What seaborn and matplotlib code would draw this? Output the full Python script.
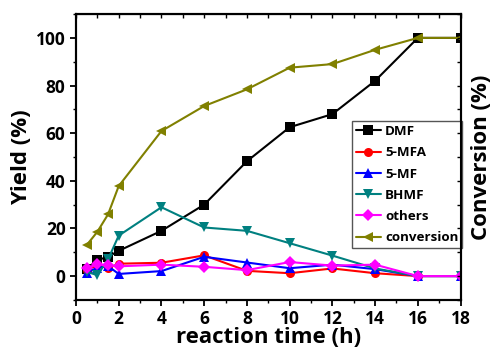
import pandas as pd
import matplotlib
matplotlib.use('Agg')
import matplotlib.pyplot as plt
import seaborn as sns
from matplotlib.ticker import MultipleLocator, NullFormatter

# Reaction time (h) and yields / conversion (%)
time = [0.5, 1, 1.5, 2, 4, 6, 8, 10, 12, 14, 16, 18]
dmf = [3, 6.7, 8.1, 10.6, 19, 30, 48.2, 62.5, 68, 82, 100, 100]
mfa = [2.5, 4.6, 3.3, 5.2, 5.6, 8.7, 2.2, 1.2, 3.2, 1.2, 0, 0]
mf = [1.5, 3.5, 4.2, 0.9, 2.1, 8.1, 5.7, 3.3, 4.8, 2.9, 0, 0]
bhmf = [1.8, 0.4, 7, 17, 28.9, 20.4, 19, 13.8, 8.6, 3.2, 0, 0]
others = [3.5, 4.9, 4.5, 4.1, 4.8, 3.9, 2.5, 5.9, 4.4, 4.8, 0, 0]
conversion = [13, 18.6, 25.9, 37.8, 60.9, 71.4, 78.4, 87.5, 89, 95, 100, 100]

names = ['DMF', '5-MFA', '5-MF', 'BHMF', 'others', 'conversion']
series = [dmf, mfa, mf, bhmf, others, conversion]
colors = ['black', 'red', 'blue', '#008080', 'magenta', '#808000']
markers = ['s', 'o', '^', 'v', 'D', '<']

df = pd.concat([pd.DataFrame({'time': time, 'value': s, 'series': n})
                for n, s in zip(names, series)], ignore_index=True)

sns.set_style('ticks')
plt.rcParams['font.family'] = ['Open Sans', 'DejaVu Sans']
plt.rcParams['font.weight'] = 'bold'
plt.rcParams['text.color'] = 'black'
plt.rcParams['axes.labelcolor'] = 'black'
plt.rcParams['xtick.color'] = 'black'
plt.rcParams['ytick.color'] = 'black'

fig = plt.figure(figsize=(4.95, 3.52), dpi=100)
ax = fig.add_axes([0.1535, 0.148, 0.777, 0.812])

sns.lineplot(data=df, x='time', y='value', hue='series', style='series',
             palette=dict(zip(names, colors)), markers=dict(zip(names, markers)),
             dashes=False, linewidth=1.5, markersize=6.5, markeredgewidth=0,
             ax=ax)

ax.set_xlim(0, 18)
ax.set_ylim(-10, 110)
ax.xaxis.set_major_locator(MultipleLocator(2))
ax.xaxis.set_minor_locator(MultipleLocator(1))
ax.yaxis.set_major_locator(MultipleLocator(20))
ax.yaxis.set_minor_locator(MultipleLocator(10))
ax.tick_params(axis='both', which='major', labelsize=12.5, width=1.3, length=4,
               direction='out', colors='black')
ax.tick_params(axis='both', which='minor', width=1.0, length=2.5, direction='out')
for lab in ax.get_xticklabels() + ax.get_yticklabels():
    lab.set_fontweight('bold')
for sp in ax.spines.values():
    sp.set_linewidth(1.5)
    sp.set_color('black')

ax.set_xlabel('reaction time (h)', fontsize=16, fontweight='bold', labelpad=-1)
ax.set_ylabel('Yield (%)', fontsize=16, fontweight='bold', labelpad=3)

# top ticks (inward)
secx = ax.secondary_xaxis('top')
secx.xaxis.set_major_locator(MultipleLocator(2))
secx.xaxis.set_minor_locator(MultipleLocator(1))
secx.xaxis.set_major_formatter(NullFormatter())
secx.tick_params(which='both', direction='in', labeltop=False, length=3, width=1)
ax.tick_params(top=False, which='both')

# right axis with label only
ax2 = ax.twinx()
ax2.set_ylim(-10, 110)
ax2.yaxis.set_major_locator(MultipleLocator(20))
ax2.yaxis.set_minor_locator(MultipleLocator(10))
ax2.yaxis.set_major_formatter(NullFormatter())
ax2.tick_params(which='both', direction='in', length=3, width=1)
ax2.set_ylabel('Conversion (%)', fontsize=16, fontweight='bold', labelpad=4)
for sp in ax2.spines.values():
    sp.set_linewidth(1.5)
    sp.set_color('black')

handles, labels = ax.get_legend_handles_labels()
ax.legend(handles, labels, loc='upper left', bbox_to_anchor=(0.717, 0.626),
          prop={'weight': 'bold', 'size': 9.6}, frameon=True, fancybox=False,
          edgecolor='#555555', framealpha=1, handlelength=1.9, handletextpad=0.3,
          borderpad=0.3, labelspacing=0.62, borderaxespad=0)

fig.savefig('out.png', dpi=100)
